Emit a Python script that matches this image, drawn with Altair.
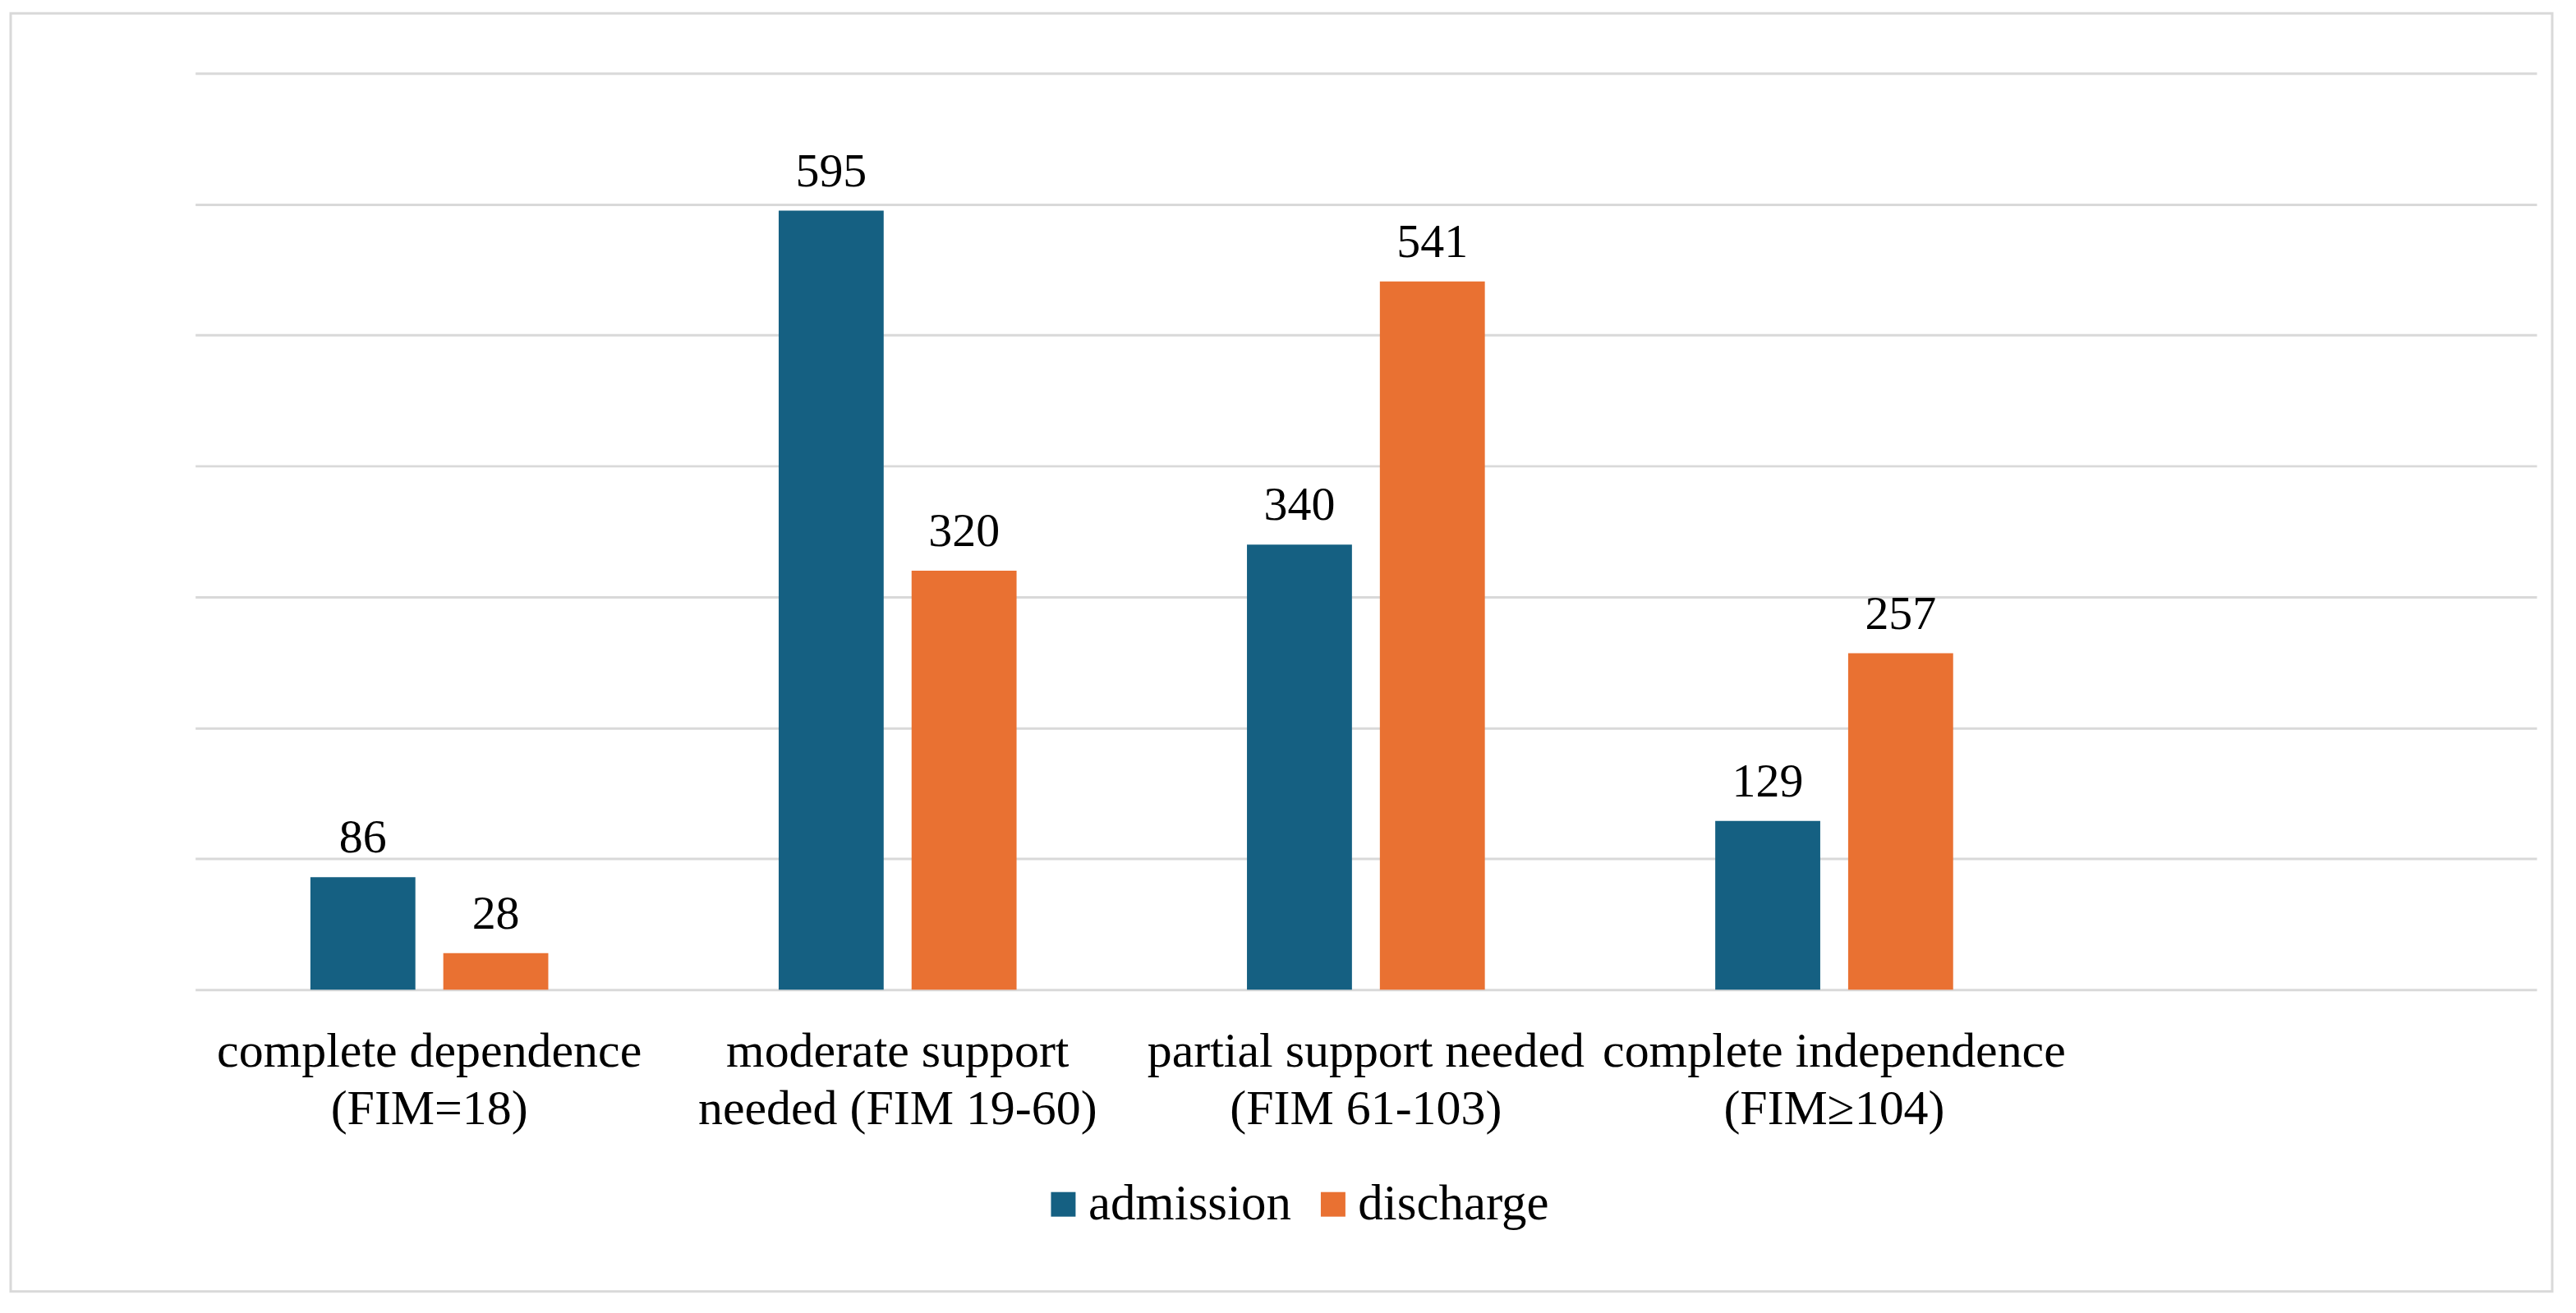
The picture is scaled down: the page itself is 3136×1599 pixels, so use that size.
import altair as alt
import pandas as pd

categories = [
    "complete dependence\n(FIM=18)",
    "moderate support\nneeded (FIM 19-60)",
    "partial support needed\n(FIM 61-103)",
    "complete independence\n(FIM≥104)",
]
empty_slot = [" "]
series = ["admission", "discharge"]
admission = [86, 595, 340, 129]
discharge = [28, 320, 541, 257]
colors = ["#156082", "#E97132"]
grid_values = [0, 100, 200, 300, 400, 500, 600, 700]

rows = []
for c, a, d in zip(categories, admission, discharge):
    rows.append({"cat": c, "series": series[0], "value": a})
    rows.append({"cat": c, "series": series[1], "value": d})
df = pd.DataFrame(rows)

FONT = "Liberation Serif"
W, H = 2855, 1118

x_enc = alt.X(
    "cat:N",
    sort=None,
    scale=alt.Scale(domain=categories + empty_slot, paddingInner=0.492, paddingOuter=0.246),
    axis=alt.Axis(
        title=None, domain=False, ticks=False, grid=False,
        labelAngle=0, labelFont=FONT, labelFontSize=60, labelColor="#000000",
        labelExpr="split(datum.label, '\\n')", labelLineHeight=70,
        labelPadding=46, labelBaseline="top", labelLimit=0,
    ),
)
xo_enc = alt.XOffset("series:N", sort=series,
                     scale=alt.Scale(domain=series, paddingInner=0.21, paddingOuter=0))
y_enc = alt.Y(
    "value:Q",
    scale=alt.Scale(domain=[0, 700], nice=False, zero=True),
    axis=alt.Axis(values=grid_values, labels=False, ticks=False, domain=False,
                  title=None, grid=True, gridColor="#d9d9d9", gridWidth=3),
)

bars = alt.Chart(df).mark_bar().encode(
    x=x_enc,
    xOffset=xo_enc,
    y=y_enc,
    color=alt.Color(
        "series:N",
        scale=alt.Scale(domain=series, range=colors),
        legend=alt.Legend(
            title=None, orient="none", direction="horizontal",
            legendX=1028, legendY=1349, padding=0,
            symbolType="square", symbolSize=900, symbolStrokeWidth=0,
            labelFont=FONT, labelFontSize=61, labelColor="#000000",
            labelOffset=0, columnPadding=20, labelLimit=0,
        ),
    ),
)

labels = alt.Chart(df).mark_text(
    font=FONT, fontSize=58, color="#000000", baseline="alphabetic", dy=-30
).encode(
    x=x_enc,
    xOffset=xo_enc,
    y=y_enc,
    text=alt.Text("value:Q"),
)

frame = alt.Chart(pd.DataFrame({"f": [0]})).mark_rect(
    fill=None, stroke="#d9d9d9", strokeWidth=3
).encode(
    x=alt.value(-225), x2=alt.value(2874),
    y=alt.value(-73), y2=alt.value(1486),
)

chart = alt.layer(frame, bars, labels).properties(
    width=W, height=H,
    autosize=alt.AutoSizeParams(type="none"),
    padding={"left": 230, "top": 80, "right": 40, "bottom": 390},
).configure(background="#ffffff").configure_view(stroke=None)

chart.save("out.html", embed_options={"renderer": "svg", "actions": False})
